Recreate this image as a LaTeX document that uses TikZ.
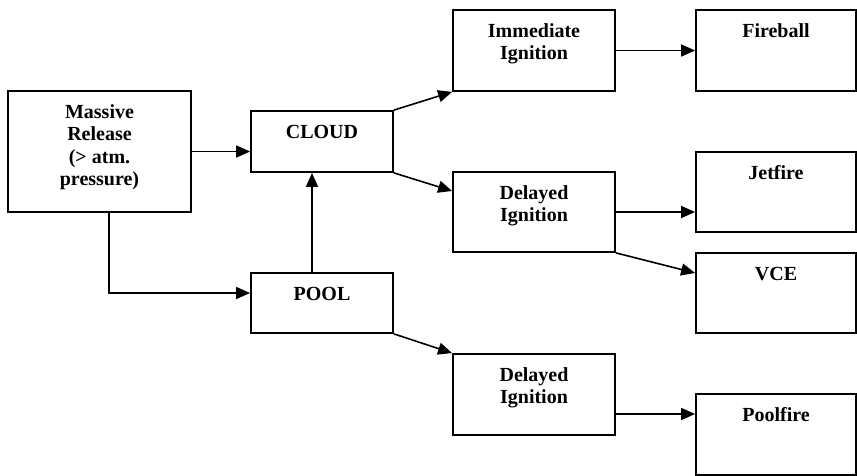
\documentclass[tikz,border=0pt]{standalone}
\usepackage{fontspec}
\setmainfont{Liberation Serif}
\usetikzlibrary{arrows.meta}
\begin{document}
\begin{tikzpicture}[x=1pt,y=-1pt,
  box/.style={draw, line width=1.8pt, inner sep=0pt},
  lbl/.style={anchor=north, inner sep=0pt, align=center, font=\bfseries\fontsize{20}{22.3}\selectfont},
  arr/.style={line width=1.6pt, -{Triangle[length=14pt,width=12pt]}}]
\useasboundingbox (0,0) rectangle (857,476);
% boxes
\node[box, minimum width=183pt, minimum height=121pt] (MR) at (99.5,151.5) {};
\node[box, minimum width=142pt, minimum height=61pt] (CL) at (322,141.5) {};
\node[box, minimum width=142pt, minimum height=60pt] (PO) at (322,303) {};
\node[box, minimum width=162pt, minimum height=81pt] (II) at (534,50.5) {};
\node[box, minimum width=162pt, minimum height=80pt] (DI1) at (534,212) {};
\node[box, minimum width=162pt, minimum height=81pt] (DI2) at (534,394.5) {};
\node[box, minimum width=160pt, minimum height=81pt] (FB) at (776,50.5) {};
\node[box, minimum width=160pt, minimum height=80pt] (JF) at (776,192) {};
\node[box, minimum width=160pt, minimum height=80pt] (VC) at (776,293) {};
\node[box, minimum width=160pt, minimum height=81pt] (PF) at (776,434.5) {};
% labels
\node[lbl] (MRt) at ([yshift=-14.5pt]MR.north) {Massive\\Release\\(> atm.\\pressure)};
\node[lbl] (CLt) at ([yshift=-14.5pt]CL.north) {CLOUD};
\node[lbl] (POt) at ([yshift=-14.5pt]PO.north) {POOL};
\node[lbl] (IIt) at ([yshift=-14.5pt]II.north) {Immediate\\Ignition};
\node[lbl] (DI1t) at ([yshift=-14.5pt]DI1.north) {Delayed\\Ignition};
\node[lbl] (DI2t) at ([yshift=-14.5pt]DI2.north) {Delayed\\Ignition};
\node[lbl] (FBt) at ([yshift=-14.5pt]FB.north) {Fireball};
\node[lbl] (JFt) at ([yshift=-14.5pt]JF.north) {Jetfire};
\node[lbl] (VCt) at ([yshift=-14.5pt]VC.north) {VCE};
\node[lbl] (PFt) at ([yshift=-14.5pt]PF.north) {Poolfire};
% connectors
\draw[arr] (MR.east) -- (MR.east -| CL.west);
\draw[arr] ([xshift=9.5pt]MR.south) |- ([yshift=10pt]PO.west);
\draw[arr] ([xshift=-10pt]PO.north) -- ([xshift=-10pt]CL.south);
\draw[arr] (CL.north east) -- (II.south west);
\draw[arr] (CL.south east) -- ([yshift=21pt]DI1.west);
\draw[arr] (II.east) -- (II.east -| FB.west);
\draw[arr] (DI1.east) -- (DI1.east -| JF.west);
\draw[arr] (DI1.south east) -- ([yshift=20pt]VC.west);
\draw[arr] (PO.south east) -- (DI2.north west);
\draw[arr] ([yshift=-19.5pt]DI2.east) -- ([yshift=-19.5pt]DI2.east -| PF.west);
\end{tikzpicture}
\end{document}
